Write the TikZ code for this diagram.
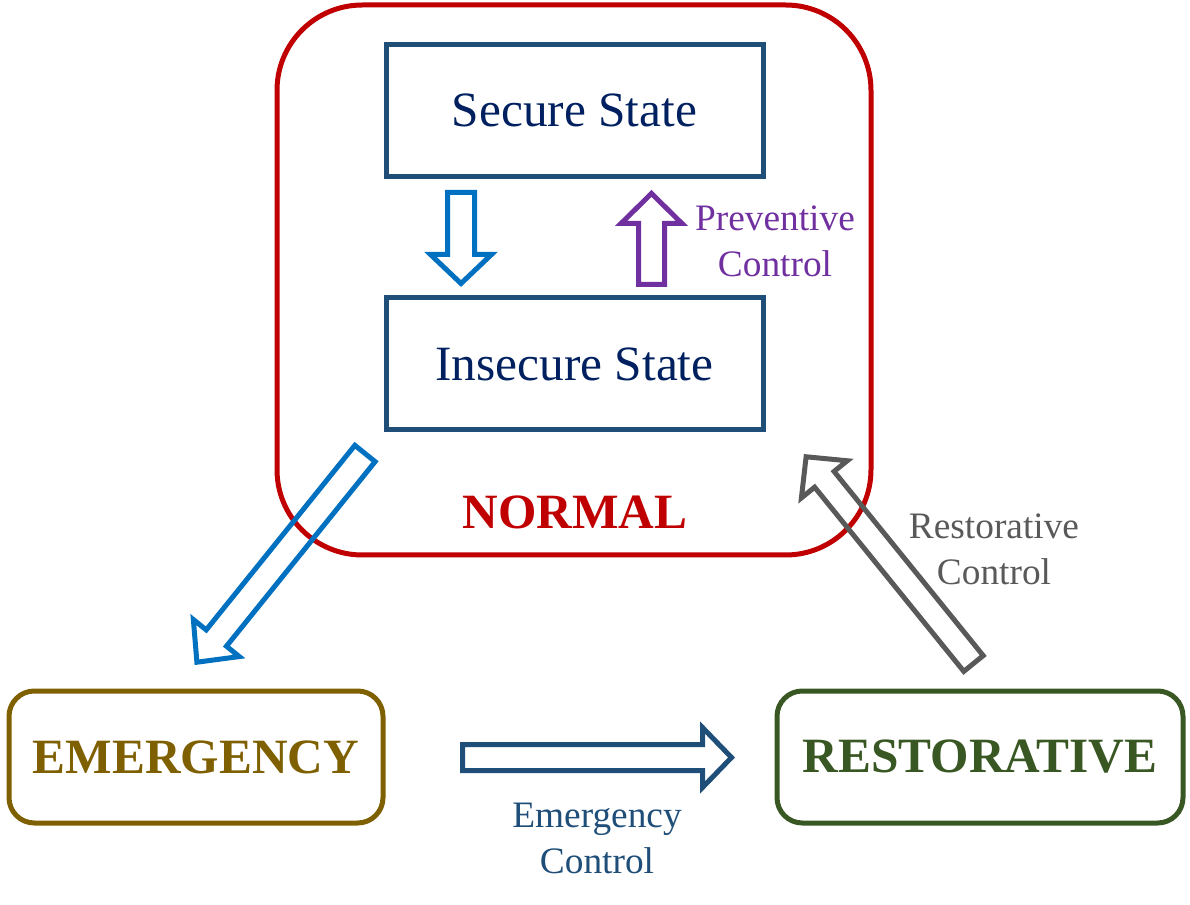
\documentclass[tikz,border=0pt]{standalone}
\usepackage{fontspec}
\setmainfont{Liberation Serif}
\definecolor{cred}{HTML}{C00000}
\definecolor{cbox}{HTML}{1F4E79}
\definecolor{cnavy}{HTML}{002060}
\definecolor{cblue}{HTML}{0070C0}
\definecolor{cpurple}{HTML}{7030A0}
\definecolor{cgray}{HTML}{595959}
\definecolor{colive}{HTML}{7F6000}
\definecolor{cgreen}{HTML}{385723}
\newcommand{\blockarr}[8]{%
\begin{scope}[shift={(#2,#3)}, rotate=#4]
\draw[barrow,#1] (0,-#6) -- ({#5-#8},-#6) -- ({#5-#8},-#7) -- (#5,0) -- ({#5-#8},#7) -- ({#5-#8},#6) -- (0,#6) -- cycle;
\end{scope}}
\begin{document}
\begin{tikzpicture}[x=0.75pt,y=-0.75pt,
  statebox/.style={draw=cbox, line width=3.75pt, minimum width=377pt*0.75, minimum height=132pt*0.75, inner sep=0pt, text=cnavy, font=\fontsize{37}{44}\selectfont},
  modebox/.style={line width=3.75pt, rounded corners=19pt, minimum height=132pt*0.75, inner sep=0pt, font=\fontsize{37}{44}\selectfont\bfseries},
  barrow/.style={line width=3.75pt, line join=miter},
  lbl/.style={align=center, font=\fontsize{28}{34.5}\selectfont, inner sep=0pt}]
\useasboundingbox (0,0) rectangle (1190,905);
% NORMAL container
\node[draw=cred, line width=3.75pt, rounded corners=64pt, minimum width=594pt*0.75, minimum height=550pt*0.75, inner sep=0pt] (normal) at (574,280) {};
\node[text=cred, font=\fontsize{37}{44}\selectfont\bfseries] (normaltxt) at (575,512) {NORMAL};
% states
\node[statebox] (secure) at (574.5,110.5) {Secure State};
\node[statebox] (insecure) at (574.5,364) {Insecure State};
% modes
\node[modebox, draw=colive, text=colive, minimum width=374pt*0.75] (emerg) at (196,757) {EMERGENCY};
\node[modebox, draw=cgreen, text=cgreen, minimum width=406pt*0.75] (restor) at (980,757) {RESTORATIVE};
% arrows
\blockarr{draw=cblue}{461}{192.5}{-90}{91}{13.5}{30.5}{29}
\blockarr{draw=cpurple}{651.5}{284.5}{90}{91}{13}{30.5}{30}
\blockarr{draw=cblue}{365}{453.5}{-128.85}{268}{13}{29.5}{31}
\blockarr{draw=cgray}{973.5}{663.5}{129.0}{266}{12.5}{29.5}{29}
\blockarr{draw=cbox}{462.5}{757.5}{0}{269}{13}{30}{29}
% labels
\node[lbl, text=cpurple] (prevlbl) at (775,241) {Preventive\\Control};
\node[lbl, text=cgray] (restlbl) at (994,549) {Restorative\\Control};
\node[lbl, text=cbox] (emerglbl) at (597,838) {Emergency\\Control};
\end{tikzpicture}
\end{document}
